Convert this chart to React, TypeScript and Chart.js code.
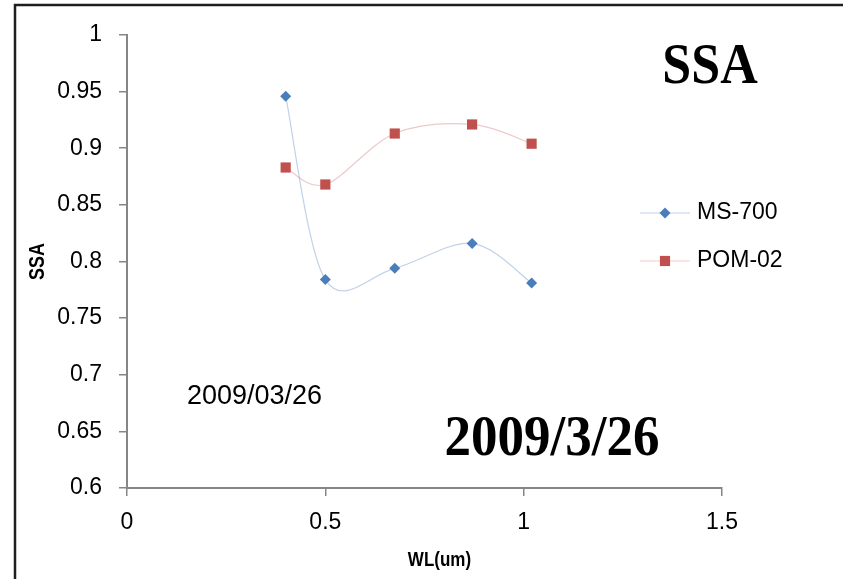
import React, { useEffect, useRef } from 'react';
import { Chart, registerables } from 'chart.js';

Chart.register(...registerables);

// Wavelengths (um) shared by both instruments
const wavelengths = [0.4, 0.5, 0.675, 0.87, 1.02];
// Single scattering albedo per instrument
const ms700 = [0.946, 0.784, 0.794, 0.816, 0.781];
const pom02 = [0.883, 0.868, 0.913, 0.921, 0.904];
const seriesNames = ['MS-700', 'POM-02'];

// Axis ranges and steps
const xMin = 0;
const xMax = 1.5;
const xStep = 0.5;
const yMin = 0.6;
const yMax = 1;
const yStep = 0.05;

const xTitle = 'WL(um)';
const yTitle = 'SSA';
const chartTitle = 'SSA';
const dateBig = '2009/3/26';
const dateSmall = '2009/03/26';

const W = 843;
const H = 579;
const SANS = "'Liberation Sans', Arial, sans-serif";
const SERIF = "'Liberation Serif', 'Times New Roman', serif";
const AXIS_GRAY = '#868686';

const toPoints = (ys: number[]) => wavelengths.map((x, i) => ({ x, y: ys[i] }));
const fmt = (v: number) => String(+Number(v).toFixed(2));

// Spreadsheet-style smoothing: Bezier control points at P(i) ± (P(i+1) - P(i-1)) / 6
const smoothPlugin = {
  id: 'smoothCurve',
  beforeDatasetDraw(chart: any, args: any) {
    const meta = args.meta;
    const line = meta.dataset;
    const pts = meta.data;
    const n = pts.length;
    for (let i = 0; i < n; i++) {
      const prev = pts[Math.max(0, i - 1)];
      const next = pts[Math.min(n - 1, i + 1)];
      const cur = pts[i];
      const dx = (next.x - prev.x) / 6;
      const dy = (next.y - prev.y) / 6;
      cur.cp1x = cur.x - dx;
      cur.cp1y = cur.y - dy;
      cur.cp2x = cur.x + dx;
      cur.cp2y = cur.y + dy;
    }
    if (line) line._pointsUpdated = true;
  },
};

const decorPlugin = {
  id: 'decor',
  beforeDraw(chart: any) {
    const { ctx, width, height } = chart;
    ctx.save();
    ctx.fillStyle = '#ffffff';
    ctx.fillRect(0, 0, width, height);
    ctx.restore();
  },
  afterDraw(chart: any) {
    const { ctx, width, height, chartArea } = chart;
    ctx.save();

    // outer frame (top and left edges)
    ctx.strokeStyle = '#1e1e1e';
    ctx.lineWidth = 2.5;
    ctx.beginPath();
    ctx.moveTo(15, height);
    ctx.lineTo(15, 5);
    ctx.lineTo(width, 5);
    ctx.stroke();

    // axis titles
    ctx.fillStyle = '#000';
    ctx.font = `bold 17px ${SANS}`;
    ctx.textAlign = 'center';
    ctx.textBaseline = 'middle';
    ctx.save();
    ctx.translate(chartArea.left + (chartArea.right - chartArea.left) / 2 + 15, 560);
    ctx.scale(1, 1.2);
    ctx.fillText(xTitle, 0, 0);
    ctx.restore();
    ctx.save();
    ctx.translate(38, (chartArea.top + chartArea.bottom) / 2);
    ctx.rotate(-Math.PI / 2);
    ctx.scale(1, 1.2);
    ctx.font = `bold 18px ${SANS}`;
    ctx.fillText(yTitle, 0, 0);
    ctx.restore();

    // big serif labels
    ctx.font = `bold 52px ${SERIF}`;
    ctx.save();
    ctx.translate(710, 68);
    ctx.scale(1, 1.08);
    ctx.fillText(chartTitle, 0, 0);
    ctx.restore();
    ctx.save();
    ctx.translate(552, 440);
    ctx.scale(1, 1.08);
    ctx.font = `bold 53px ${SERIF}`;
    ctx.fillText(dateBig, 0, 0);
    ctx.restore();

    // small date note
    ctx.font = `27px ${SANS}`;
    ctx.textAlign = 'left';
    ctx.fillText(dateSmall, 187, 397);

    // legend
    const datasets = chart.data.datasets;
    const legendX = 640;
    const legendY = [213, 261];
    datasets.forEach((ds: any, i: number) => {
      const y = legendY[i];
      ctx.strokeStyle = ds.borderColor;
      ctx.lineWidth = 1;
      ctx.beginPath();
      ctx.moveTo(legendX, y);
      ctx.lineTo(legendX + 50, y);
      ctx.stroke();
      ctx.fillStyle = ds.pointBackgroundColor;
      if (ds.pointStyle === 'rectRot') {
        const r = ds.pointRadius;
        ctx.beginPath();
        ctx.moveTo(legendX + 25 - r, y);
        ctx.lineTo(legendX + 25, y - r);
        ctx.lineTo(legendX + 25 + r, y);
        ctx.lineTo(legendX + 25, y + r);
        ctx.closePath();
        ctx.fill();
      } else {
        const s = ds.pointRadius * Math.SQRT1_2;
        ctx.fillRect(legendX + 25 - s, y - s, 2 * s, 2 * s);
      }
      ctx.fillStyle = '#000';
      ctx.font = `23px ${SANS}`;
      ctx.textAlign = 'left';
      ctx.textBaseline = 'middle';
      ctx.fillText(ds.label, legendX + 57, y);
    });

    ctx.restore();
  },
};

export default function App() {
  const canvasRef = useRef<HTMLCanvasElement | null>(null);

  useEffect(() => {
    const canvas = canvasRef.current;
    if (!canvas) return;
    const chart = new Chart(canvas, {
      type: 'line',
      data: {
        datasets: [
          {
            label: seriesNames[0],
            data: toPoints(ms700),
            borderColor: 'rgba(74,126,187,0.35)',
            borderWidth: 1.2,
            pointStyle: 'rectRot',
            pointRadius: 5.5,
            pointBackgroundColor: '#4A7EBB',
            pointBorderColor: '#4A7EBB',
            pointBorderWidth: 0,
            tension: 0.4,
            fill: false,
          },
          {
            label: seriesNames[1],
            data: toPoints(pom02),
            borderColor: 'rgba(192,80,77,0.3)',
            borderWidth: 1.2,
            pointStyle: 'rect',
            pointRadius: 7.2,
            pointBackgroundColor: '#C0504D',
            pointBorderColor: '#C0504D',
            pointBorderWidth: 0,
            tension: 0.4,
            fill: false,
          },
        ],
      },
      options: {
        animation: false,
        responsive: false,
        devicePixelRatio: 1,
        layout: { padding: { left: 0, right: 121, top: 35, bottom: 0 } },
        plugins: {
          legend: { display: false },
          tooltip: { enabled: false },
        },
        scales: {
          x: {
            type: 'linear',
            min: xMin,
            max: xMax,
            afterFit: (s: any) => {
              s.height = 91;
            },
            ticks: {
              stepSize: xStep,
              color: '#000',
              padding: 13,
              font: { family: SANS, size: 23 },
              callback: (v: any) => fmt(v),
              maxRotation: 0,
            },
            grid: {
              drawOnChartArea: false,
              drawTicks: true,
              tickLength: 8,
              color: AXIS_GRAY,
              lineWidth: 1.5,
            },
            border: { display: true, color: AXIS_GRAY, width: 2 },
          },
          y: {
            type: 'linear',
            min: yMin,
            max: yMax,
            afterFit: (s: any) => {
              s.width = 127;
            },
            ticks: {
              stepSize: yStep,
              color: '#000',
              padding: 17,
              font: { family: SANS, size: 23 },
              callback: (v: any) => fmt(v),
            },
            grid: {
              drawOnChartArea: false,
              drawTicks: true,
              tickLength: 8,
              color: AXIS_GRAY,
              lineWidth: 1.5,
            },
            border: { display: true, color: AXIS_GRAY, width: 2 },
          },
        },
      },
      plugins: [smoothPlugin, decorPlugin],
    } as any);
    return () => chart.destroy();
  }, []);

  return (
    <div style={{ position: 'absolute', left: 0, top: 0, width: W, height: H, background: '#fff' }}>
      <canvas ref={canvasRef} width={W} height={H} style={{ display: 'block', width: W, height: H }} />
    </div>
  );
}
